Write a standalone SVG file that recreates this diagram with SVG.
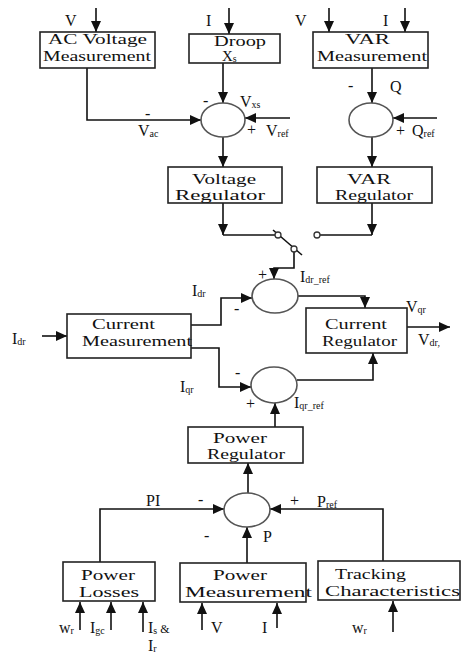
<svg xmlns="http://www.w3.org/2000/svg" width="461" height="654" viewBox="0 0 461 654">
<style>
.bx{fill:#fff;stroke:#222;stroke-width:1.6}
.sm{fill:#fff;stroke:#555;stroke-width:1.6}
.ln{fill:none;stroke:#111;stroke-width:1.6}
.ar{fill:none;stroke:#111;stroke-width:1.6;marker-end:url(#ah)}
.t{font-family:"Liberation Serif","Times New Roman",serif;font-size:16px;fill:#111}
.b{font-size:15px}
.s{font-size:10px}
</style>
<defs>
<marker id="ah" markerUnits="userSpaceOnUse" markerWidth="11" markerHeight="10" refX="11" refY="5" orient="auto">
<path d="M0,0 L11,5 L0,10 z" fill="#111"/>
</marker>
</defs>

<g id="connectors">
<path class="ar" d="M96,8 V32"/>
<path class="ar" d="M229,8 V34"/>
<path class="ar" d="M329,8 V32"/>
<path class="ar" d="M405,8 V32"/>
<path class="ar" d="M87,68 V120 H201"/>
<path class="ar" d="M223,63 V103"/>
<path class="ar" d="M290,118 H245"/>
<path class="ar" d="M223,137 V167"/>
<path class="ar" d="M372,68 V103"/>
<path class="ar" d="M437,118 H393"/>
<path class="ar" d="M372,137 V167"/>
<path class="ar" d="M223,203 V235"/>
<path class="ln" d="M223,235 H275"/>
<path class="ar" d="M372,203 V235"/>
<path class="ln" d="M372,235 H320"/>
<path class="ln" d="M273,230 L302,255"/>
<path class="ar" d="M294,252 V268 H274 V279"/>
<path class="ar" d="M42,336 H67"/>
<path class="ar" d="M191,325 H221 V298 H252"/>
<path class="ar" d="M191,348 H219 V387 H251"/>
<path class="ar" d="M298,296 H365 V308"/>
<path class="ar" d="M297,380 H373 V353"/>
<path class="ar" d="M407,327 H450"/>
<path class="ar" d="M275,427 V403"/>
<path class="ar" d="M248,493 V463"/>
<path class="ar" d="M100,562 V509 H224"/>
<path class="ar" d="M383,561 V509 H270"/>
<path class="ar" d="M247,563 V527"/>
<path class="ar" d="M80,630 V602"/>
<path class="ar" d="M111,630 V602"/>
<path class="ar" d="M143,632 V602"/>
<path class="ar" d="M202,630 V603"/>
<path class="ar" d="M277,628 V603"/>
<path class="ar" d="M393,632 V601"/>
</g>

<g id="ac-voltage-measurement">
<rect class="bx" x="40" y="32" width="115" height="36"/>
<text class="t b" x="48" y="44" textLength="99" lengthAdjust="spacingAndGlyphs">AC Voltage</text>
<text class="t b" x="43" y="61" textLength="108" lengthAdjust="spacingAndGlyphs">Measurement</text>
</g>
<g id="droop">
<rect class="bx" x="189" y="34" width="91" height="29"/>
<text class="t b" x="214" y="46" textLength="52" lengthAdjust="spacingAndGlyphs">Droop</text>
<text class="t b" x="222" y="61">X<tspan class="s" dy="1">s</tspan></text>
</g>
<g id="var-measurement">
<rect class="bx" x="313" y="32" width="115" height="36"/>
<text class="t b" x="345" y="44" textLength="45" lengthAdjust="spacingAndGlyphs">VAR</text>
<text class="t b" x="317" y="61" textLength="110" lengthAdjust="spacingAndGlyphs">Measurement</text>
</g>
<g id="voltage-sum"><ellipse class="sm" cx="223" cy="120" rx="22" ry="17"/></g>
<g id="var-sum"><ellipse class="sm" cx="371" cy="120" rx="22" ry="17"/></g>
<g id="voltage-regulator">
<rect class="bx" x="168" y="167" width="114" height="36"/>
<text class="t b" x="192" y="184" textLength="64" lengthAdjust="spacingAndGlyphs">Voltage</text>
<text class="t b" x="175" y="200" textLength="90" lengthAdjust="spacingAndGlyphs">Regulator</text>
</g>
<g id="var-regulator">
<rect class="bx" x="317" y="167" width="115" height="36"/>
<text class="t b" x="347" y="184" textLength="44" lengthAdjust="spacingAndGlyphs">VAR</text>
<text class="t b" x="335" y="200" textLength="78" lengthAdjust="spacingAndGlyphs">Regulator</text>
</g>
<g id="switch">
<circle cx="278" cy="235" r="3" fill="#fff" stroke="#333" stroke-width="1.3"/>
<circle cx="317" cy="235" r="3" fill="#fff" stroke="#333" stroke-width="1.3"/>
<circle cx="294" cy="249" r="3" fill="#fff" stroke="#333" stroke-width="1.3"/>
</g>
<g id="idr-sum"><ellipse class="sm" cx="275" cy="296" rx="23" ry="17"/></g>
<g id="iqr-sum"><ellipse class="sm" cx="274" cy="385" rx="23" ry="18"/></g>
<g id="current-measurement">
<rect class="bx" x="67" y="314" width="124" height="44"/>
<text class="t b" x="92" y="329" textLength="63" lengthAdjust="spacingAndGlyphs">Current</text>
<text class="t b" x="82" y="346" textLength="110" lengthAdjust="spacingAndGlyphs">Measurement</text>
</g>
<g id="current-regulator">
<rect class="bx" x="306" y="308" width="101" height="45"/>
<text class="t b" x="325" y="329" textLength="62" lengthAdjust="spacingAndGlyphs">Current</text>
<text class="t b" x="322" y="346" textLength="75" lengthAdjust="spacingAndGlyphs">Regulator</text>
</g>
<g id="power-regulator">
<rect class="bx" x="188" y="427" width="115" height="36"/>
<text class="t b" x="213" y="443" textLength="54" lengthAdjust="spacingAndGlyphs">Power</text>
<text class="t b" x="207" y="459" textLength="78" lengthAdjust="spacingAndGlyphs">Regulator</text>
</g>
<g id="power-sum"><ellipse class="sm" cx="247" cy="510" rx="23" ry="17"/></g>
<g id="power-losses">
<rect class="bx" x="63" y="562" width="92" height="39"/>
<text class="t b" x="81" y="580" textLength="54" lengthAdjust="spacingAndGlyphs">Power</text>
<text class="t b" x="79" y="597" textLength="60" lengthAdjust="spacingAndGlyphs">Losses</text>
</g>
<g id="power-measurement">
<rect class="bx" x="180" y="563" width="126" height="39"/>
<text class="t b" x="213" y="580" textLength="54" lengthAdjust="spacingAndGlyphs">Power</text>
<text class="t b" x="185" y="597" textLength="127" lengthAdjust="spacingAndGlyphs">Measurement</text>
</g>
<g id="tracking-characteristics">
<rect class="bx" x="318" y="561" width="142" height="39"/>
<text class="t b" x="335" y="579" textLength="71" lengthAdjust="spacingAndGlyphs">Tracking</text>
<text class="t b" x="325" y="596" textLength="135" lengthAdjust="spacingAndGlyphs">Characteristics</text>
</g>

<g id="labels">
<text class="t" x="65" y="26">V</text>
<text class="t" x="206" y="26">I</text>
<text class="t" x="295" y="26">V</text>
<text class="t" x="383" y="26">I</text>
<text class="t" x="145" y="119">-</text>
<text class="t" x="138" y="136">V<tspan class="s" dy="1">ac</tspan></text>
<text class="t" x="203" y="106">-</text>
<text class="t" x="240" y="107">V<tspan class="s" dy="1">xs</tspan></text>
<text class="t" x="247" y="135">+</text>
<text class="t" x="266" y="136">V<tspan class="s" dy="1">ref</tspan></text>
<text class="t" x="348" y="91">-</text>
<text class="t" x="390" y="92">Q</text>
<text class="t" x="396" y="136">+</text>
<text class="t" x="412" y="136">Q<tspan class="s" dy="1">ref</tspan></text>
<text class="t" x="258" y="280">+</text>
<text class="t" x="300" y="282">I<tspan class="s" dy="1">dr_ref</tspan></text>
<text class="t" x="192" y="296">I<tspan class="s" dy="1">dr</tspan></text>
<text class="t" x="234" y="314">-</text>
<text class="t" x="12" y="344">I<tspan class="s" dy="1">dr</tspan></text>
<text class="t" x="180" y="392">I<tspan class="s" dy="1">qr</tspan></text>
<text class="t" x="235" y="378">-</text>
<text class="t" x="246" y="409">+</text>
<text class="t" x="294" y="408">I<tspan class="s" dy="1">qr_ref</tspan></text>
<text class="t" x="406" y="312">V<tspan class="s" dy="1">qr</tspan></text>
<text class="t" x="418" y="345">V<tspan class="s" dy="1">dr,</tspan></text>
<text class="t" x="146" y="506">PI</text>
<text class="t" x="198" y="505">-</text>
<text class="t" x="204" y="541">-</text>
<text class="t" x="290" y="506">+</text>
<text class="t" x="317" y="507">P<tspan class="s" dy="1">ref</tspan></text>
<text class="t" x="263" y="542">P</text>
<text class="t" x="59" y="633">w<tspan class="s" dy="1">r</tspan></text>
<text class="t" x="90" y="633">I<tspan class="s" dy="1">gc</tspan></text>
<text class="t" x="148" y="633">I<tspan class="s" dy="1">s</tspan><tspan dy="-1" font-size="12"> &amp;</tspan></text>
<text class="t" x="148" y="651">I<tspan class="s" dy="1">r</tspan></text>
<text class="t" x="211" y="633">V</text>
<text class="t" x="262" y="633">I</text>
<text class="t" x="352" y="633">w<tspan class="s" dy="1">r</tspan></text>
</g>
</svg>
